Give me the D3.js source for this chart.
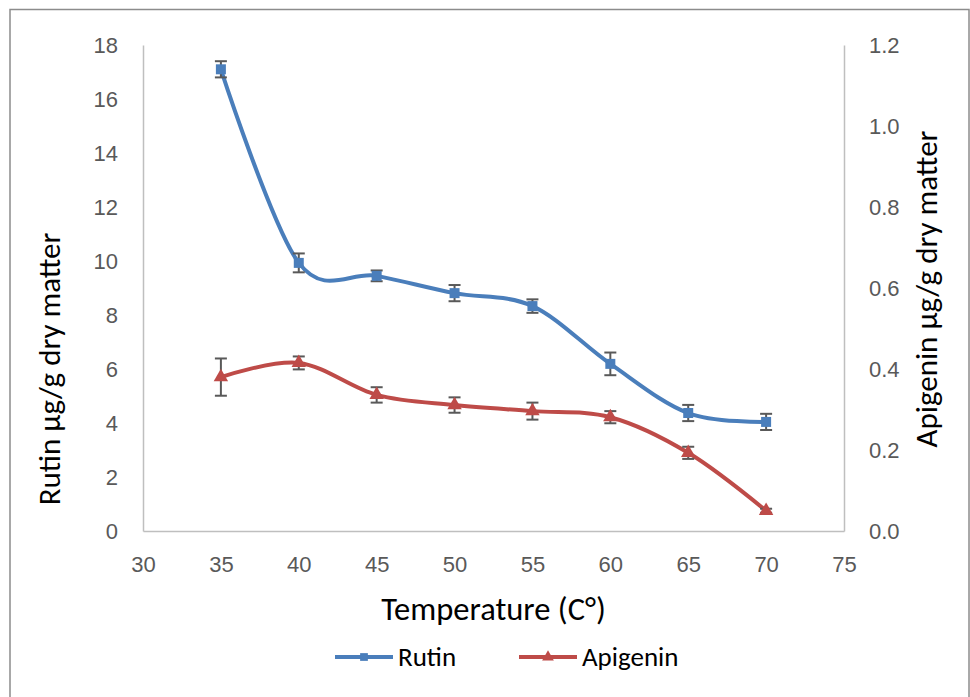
<!DOCTYPE html>
<html>
<head>
<meta charset="utf-8">
<script src="https://cdn.jsdelivr.net/npm/d3@7"></script>
<style>
  body { margin: 0; background: #fff; }
  svg { font-family: Carlito, Lato, "Open Sans", sans-serif; }
</style>
</head>
<body>
<svg id="chart" width="970" height="697"></svg>
<script>
// data
const temps = [35, 40, 45, 50, 55, 60, 65, 70];
const rutin = [17.1, 9.93, 9.45, 8.81, 8.33, 6.19, 4.37, 4.04];
const rutinErr = [0.3, 0.35, 0.2, 0.3, 0.25, 0.42, 0.3, 0.3];
const apigenin = [0.38, 0.415, 0.336, 0.311, 0.296, 0.281, 0.193, 0.05];
const apigeninErr = [0.046, 0.016, 0.019, 0.019, 0.021, 0.015, 0.015, 0.005];
const xTicks = [30, 35, 40, 45, 50, 55, 60, 65, 70, 75];
const leftTicks = [0, 2, 4, 6, 8, 10, 12, 14, 16, 18];
const rightTicks = [0, 0.2, 0.4, 0.6, 0.8, 1.0, 1.2];

const svg = d3.select("#chart");
const plotL = 143, plotR = 844, plotT = 45, plotB = 531;

// outer frame
svg.append("rect")
   .attr("x", 10).attr("y", 9.5)
   .attr("width", 959).attr("height", 700)
   .attr("fill", "none").attr("stroke", "#8c8c8c").attr("stroke-width", 1.5);

const x = d3.scaleLinear().domain([30, 75]).range([plotL, plotR]);
const yL = d3.scaleLinear().domain([0, 18]).range([plotB, plotT]);
const yR = d3.scaleLinear().domain([0, 1.2]).range([plotB, plotT]);

// axes
const xAxis = svg.append("g")
   .attr("transform", "translate(0," + plotB + ")")
   .call(d3.axisBottom(x).tickValues(xTicks).tickSize(0).tickPadding(25));
const lAxis = svg.append("g")
   .attr("transform", "translate(" + plotL + ",0)")
   .call(d3.axisLeft(yL).tickValues(leftTicks).tickSize(0).tickPadding(25));
const rAxis = svg.append("g")
   .attr("transform", "translate(" + plotR + ",0)")
   .call(d3.axisRight(yR).tickValues(rightTicks).tickSize(0).tickPadding(25)
         .tickFormat(d3.format(".1f")));

[xAxis, lAxis, rAxis].forEach(a => {
  a.select(".domain").attr("stroke", "#bfbfbf").attr("stroke-width", 1.5);
  a.selectAll("text").attr("fill", "#595959").style("font-size", "22px");
});

// titles
svg.append("text").attr("x", x(52.5)).attr("y", 620)
   .attr("text-anchor", "middle").attr("fill", "#000")
   .style("font-size", "32.5px").text("Temperature (C°)");
svg.append("text")
   .attr("transform", "translate(60,369) rotate(-90)")
   .attr("text-anchor", "middle").attr("fill", "#000")
   .style("font-size", "31px").text("Rutin µg/g dry matter");
svg.append("text")
   .attr("transform", "translate(937,289) rotate(-90)")
   .attr("text-anchor", "middle").attr("fill", "#000")
   .style("font-size", "31px").text("Apigenin µg/g dry matter");

const blue = "#4a7ebb", red = "#be4b48", errColor = "#595959";

function drawSeries(vals, errs, yScale, color, shape) {
  const pts = temps.map((t, i) => ({t: t, v: vals[i], e: errs[i]}));
  const line = d3.line()
    .x(d => x(d.t)).y(d => yScale(d.v))
    .curve(d3.curveCardinal.tension(0));
  svg.append("path").datum(pts)
     .attr("d", line).attr("fill", "none")
     .attr("stroke", color).attr("stroke-width", 4);

  const g = svg.append("g");
  // error bars
  const eb = g.selectAll(".eb").data(pts).enter().append("g");
  eb.append("line")
    .attr("x1", d => x(d.t)).attr("x2", d => x(d.t))
    .attr("y1", d => yScale(d.v + d.e)).attr("y2", d => yScale(d.v - d.e))
    .attr("stroke", errColor).attr("stroke-width", 2);
  [1, -1].forEach(s => {
    eb.append("line")
      .attr("x1", d => x(d.t) - 6).attr("x2", d => x(d.t) + 6)
      .attr("y1", d => yScale(d.v + s * d.e)).attr("y2", d => yScale(d.v + s * d.e))
      .attr("stroke", errColor).attr("stroke-width", 2);
  });
  // markers
  g.selectAll(".m").data(pts).enter().append("path")
   .attr("transform", d => "translate(" + x(d.t) + "," + yScale(d.v) + ")")
   .attr("d", d3.symbol().type(shape).size(shape === d3.symbolSquare ? 100 : 90))
   .attr("fill", color);
}

drawSeries(rutin, rutinErr, yL, blue, d3.symbolSquare);
drawSeries(apigenin, apigeninErr, yR, red, d3.symbolTriangle);

// legend
const legend = svg.append("g");
const items = [
  {name: "Rutin", color: blue, shape: d3.symbolSquare, x: 335},
  {name: "Apigenin", color: red, shape: d3.symbolTriangle, x: 519}
];
items.forEach(it => {
  legend.append("line")
    .attr("x1", it.x).attr("x2", it.x + 58)
    .attr("y1", 657).attr("y2", 657)
    .attr("stroke", it.color).attr("stroke-width", 4);
  legend.append("path")
    .attr("transform", "translate(" + (it.x + 29) + ",657)")
    .attr("d", d3.symbol().type(it.shape).size(60))
    .attr("fill", it.color);
  legend.append("text")
    .attr("x", it.x + 63).attr("y", 666)
    .attr("fill", "#000").style("font-size", "27px")
    .text(it.name);
});
</script>
</body>
</html>
